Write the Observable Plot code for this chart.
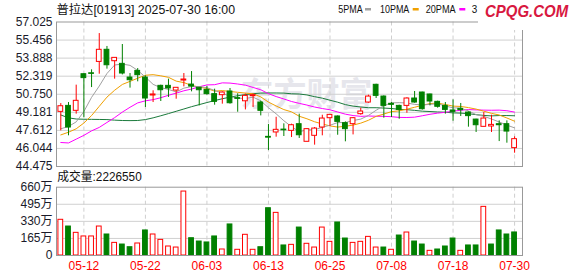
<!DOCTYPE html>
<html><head><meta charset="utf-8">
<script src="https://cdn.jsdelivr.net/npm/d3@7"></script>
<script src="https://cdn.jsdelivr.net/npm/@observablehq/plot@0.6"></script>
<style>
html,body{margin:0;padding:0;background:#fff;}
#chart{position:relative;width:578px;height:276px;overflow:hidden;font-family:"Liberation Sans","Noto Sans CJK SC",Arial,sans-serif;}
#chart svg{position:absolute;left:0;overflow:visible;}
#logo{position:absolute;left:478px;top:0;width:100px;height:29.5px;background:#fff;}
#logo span{position:absolute;left:7px;top:2px;font:italic bold 17px/20px "Liberation Sans",Arial,sans-serif;color:#d8183f;white-space:nowrap;transform:scaleX(0.88);transform-origin:0 0;}
</style></head><body><div id="chart"></div>
<script>
const title = "普拉达[01913] 2025-07-30 16:00";
const volumeLabel = "成交量:2226550";
const dates = ["05-07","05-08","05-09","05-12","05-13","05-14","05-15","05-16","05-19","05-20","05-21","05-22","05-23","05-26","05-27","05-28","05-29","05-30","06-02","06-03","06-04","06-05","06-06","06-09","06-10","06-11","06-12","06-13","06-16","06-17","06-18","06-19","06-20","06-23","06-24","06-25","06-26","06-27","06-30","07-02","07-03","07-04","07-07","07-08","07-09","07-10","07-11","07-14","07-15","07-16","07-17","07-18","07-21","07-22","07-23","07-24","07-25","07-28","07-29","07-30"];
const open = [49.22,49.74,49.31,52.49,52.57,53.56,54.61,53.62,53.39,52.20,
  52.78,52.20,50.64,51.48,51.48,51.07,51.94,51.59,51.31,51.13,
  50.76,50.67,50.99,50.41,50.14,50.58,50.03,47.05,47.43,47.68,
  47.57,48.15,46.62,47.14,47.86,48.67,48.82,48.24,48.15,49.02,
  50.03,51.57,50.55,49.92,49.74,49.74,50.38,50.90,50.73,50.09,
  49.74,49.34,49.48,49.16,48.55,47.92,47.95,48.15,48.15,46.07];
const high = [49.94,50.03,51.54,52.52,52.87,56.02,54.90,53.91,55.07,52.55,
  52.98,52.35,51.05,51.54,52.06,51.31,52.55,52.72,51.33,51.42,
  51.19,50.96,51.25,50.79,50.76,50.76,50.15,48.12,48.75,48.18,
  48.15,49.02,47.77,47.86,48.93,48.96,48.87,48.35,48.73,49.54,
  50.67,51.62,50.61,50.03,49.80,50.44,50.99,50.93,50.76,50.15,
  50.03,50.26,49.95,49.22,48.58,49.16,48.93,48.44,48.44,47.05];
const low = [47.57,47.14,49.02,48.70,51.33,52.49,52.93,52.06,52.43,51.28,
  51.83,49.60,50.03,50.12,50.47,50.32,51.39,50.96,49.74,50.67,
  49.80,49.89,49.89,49.19,49.39,49.60,48.87,45.86,47.02,47.08,
  46.99,46.91,46.62,46.33,47.14,47.95,47.19,46.62,47.22,48.93,
  49.97,50.38,48.67,48.73,48.58,49.10,49.97,49.37,49.74,49.54,
  49.02,48.41,48.82,47.89,47.43,47.92,47.43,46.64,46.50,45.63];
const close = [49.71,47.86,50.18,52.15,52.52,54.61,53.27,53.91,52.55,51.97,
  52.41,50.38,50.73,51.10,51.25,51.31,52.03,51.42,51.10,50.76,
  50.09,50.90,49.97,50.35,50.61,50.67,49.31,46.98,47.66,47.62,
  48.06,47.19,47.72,47.77,48.64,48.96,48.35,47.72,48.67,49.25,
  50.55,50.61,49.74,49.83,49.39,50.38,50.03,49.45,50.12,49.66,
  49.39,49.22,49.37,48.85,48.06,48.64,48.09,48.06,47.51,46.85];
// volume in 万 shares
const volume = [345,280,219,184,184,280,203,122,106,80,
  116,242,203,151,87,77,618,167,135,126,
  184,58,300,55,200,55,80,457,412,97,
  103,270,113,77,270,132,319,164,122,132,
  180,77,77,55,193,222,135,106,45,58,
  87,164,45,97,97,470,106,242,203,222.655];
const ma5 = [47.75,47.95,48.35,49.25,50.48,51.46,52.55,53.29,53.37,53.26,
  52.82,52.24,51.61,51.32,51.17,50.95,51.28,51.42,51.42,51.32,
  51.08,50.85,50.56,50.41,50.38,50.50,50.18,49.58,49.05,48.45,
  47.93,47.50,47.65,47.67,47.88,48.06,48.29,48.29,48.47,48.59,
  48.91,49.36,49.76,50.00,50.02,49.99,49.87,49.82,49.87,49.93,
  49.73,49.57,49.55,49.30,48.98,48.83,48.60,48.34,48.07,47.83];
const ma10 = [47.22,47.45,47.75,48.25,48.90,49.70,50.50,51.10,51.60,51.87,
  52.14,52.40,52.45,52.35,52.22,51.89,51.76,51.52,51.37,51.25,
  51.02,51.07,50.99,50.92,50.85,50.79,50.52,50.07,49.73,49.42,
  49.22,48.84,48.62,48.36,48.17,48.00,47.90,47.97,48.07,48.24,
  48.49,48.83,49.03,49.24,49.31,49.45,49.62,49.79,49.94,49.98,
  49.86,49.72,49.69,49.59,49.46,49.28,49.09,48.95,48.69,48.41];
const ma20 = [46.56,46.52,46.85,47.18,47.57,47.87,48.30,48.72,49.20,49.62,
  50.00,50.18,50.28,50.45,50.66,50.85,51.05,51.20,51.40,51.56,
  51.58,51.74,51.72,51.64,51.54,51.34,51.14,50.80,50.55,50.34,
  50.12,49.96,49.81,49.64,49.51,49.40,49.21,49.02,48.90,48.83,
  48.86,48.84,48.83,48.80,48.74,48.73,48.76,48.88,49.01,49.11,
  49.18,49.28,49.36,49.42,49.39,49.37,49.36,49.37,49.32,49.20];
const ma30 = [48.95,48.70,48.60,48.58,48.57,48.56,48.55,48.50,48.47,48.46,
  48.47,48.55,48.70,48.88,49.07,49.27,49.47,49.67,49.85,50.03,
  50.20,50.36,50.50,50.62,50.72,50.80,50.85,50.86,50.86,50.85,
  50.79,50.77,50.69,50.54,50.41,50.23,50.06,49.85,49.72,49.64,
  49.58,49.58,49.55,49.51,49.44,49.41,49.35,49.28,49.25,49.21,
  49.19,49.13,49.11,49.06,48.98,48.91,48.87,48.90,48.90,48.88];
const priceTicks = [57.025,55.456,53.888,52.319,50.750,49.181,47.612,46.044,44.475];
const priceTickLabels = ["57.025","55.456","53.888","52.319","50.750","49.181","47.612","46.044","44.475"];
const volTicks = [660,495,330,165,0];
const volTickLabels = ["660万","495万","330万","165万","0"];
const dateTickIdx = [3,11,19,27,35,43,51,59];
const legendLabels = ["5PMA","10PMA","20PMA","3"];
const legendColors = ["#a0a0a0","#f0a000","#ff00ff","#1b7a3c"];
const watermark = "东方财富";
const logoText = "CPQG.COM";

const RED = "#ff0000", GREEN = "#008000";
const data = dates.map((d, i) => ({
  i, date: d, open: open[i], high: high[i], low: low[i], close: close[i],
  vol: volume[i], ma5: ma5[i], ma10: ma10[i], ma20: ma20[i], ma30: ma30[i],
  up: close[i] >= open[i],
  volUp: i === 0 ? true : close[i] >= close[i - 1]
}));

const FONT = '"Liberation Sans","Noto Sans CJK SC",Arial,sans-serif';
const xDomain = [-0.56, 60.03];
const W = 0.31;

const price = Plot.plot({
  width: 578, height: 172,
  marginLeft: 56, marginRight: 56, marginTop: 21.5, marginBottom: 6,
  style: {background: "transparent", fontFamily: FONT, fontSize: "12px", overflow: "visible"},
  x: {domain: xDomain, axis: null, label: null},
  y: {domain: [44.475, 57.025], axis: null, label: null},
  marks: [
    Plot.text([watermark], {frameAnchor: "middle", dx: 17, dy: 1, fontSize: 33, fontWeight: "bold", fill: "#e6e6ec", fontFamily: FONT}),
    Plot.gridY(priceTicks.slice(1, -1), {stroke: "#d0d0d0", strokeOpacity: 1}),
    Plot.ruleX(dateTickIdx, {stroke: "#cfcfcf", strokeDasharray: "4,3"}),
    Plot.axisY(priceTicks, {tickSize: 0, tickPadding: 4, fontSize: 12, fill: "#1a1a2a",
      tickFormat: d => priceTickLabels[priceTicks.indexOf(d)]}),
    Plot.line(data, {x: "i", y: "ma30", stroke: legendColors[3], strokeWidth: 1}),
    Plot.line(data, {x: "i", y: "ma20", stroke: legendColors[2], strokeWidth: 1}),
    Plot.line(data, {x: "i", y: "ma10", stroke: legendColors[1], strokeWidth: 1}),
    Plot.line(data, {x: "i", y: "ma5", stroke: legendColors[0], strokeWidth: 1}),
    Plot.ruleX(data, {x: "i", y1: "low", y2: "high", stroke: d => d.up ? RED : GREEN, strokeWidth: 1}),
    Plot.rect(data, {x1: d => d.i - W, x2: d => d.i + W, y1: "open", y2: "close",
      fill: d => d.up ? "#ffffff" : GREEN, stroke: d => d.up ? RED : GREEN, strokeWidth: 1}),
    Plot.frame({stroke: "#999999"})
  ]
});
price.style.top = "0px";
document.getElementById("chart").appendChild(price);

const vol = Plot.plot({
  width: 578, height: 106,
  marginLeft: 56, marginRight: 56, marginTop: 16.7, marginBottom: 21,
  style: {background: "transparent", fontFamily: FONT, fontSize: "12px", overflow: "visible"},
  x: {domain: xDomain, axis: null, label: null},
  y: {domain: [0, 660], axis: null, label: null},
  marks: [
    Plot.gridY([495, 330, 165], {stroke: "#d0d0d0", strokeOpacity: 1}),
    Plot.ruleX(dateTickIdx, {stroke: "#cfcfcf", strokeDasharray: "4,3"}),
    Plot.axisY(volTicks, {tickSize: 0, tickPadding: 4, fontSize: 12, fill: "#1a1a2a",
      tickFormat: d => volTickLabels[volTicks.indexOf(d)]}),
    Plot.axisX(dateTickIdx, {anchor: "bottom", tickSize: 0, tickPadding: 6, fontSize: 12, fill: RED,
      tickFormat: i => dates[i]}),
    Plot.rect(data, {x1: d => d.i - W, x2: d => d.i + W, y1: d => 0, y2: "vol",
      fill: d => d.volUp ? "#ffffff" : GREEN, stroke: d => d.volUp ? RED : GREEN, strokeWidth: 1}),
    Plot.frame({stroke: "#999999"})
  ]
});
vol.style.top = "170px";
document.getElementById("chart").appendChild(vol);

// overlay texts
const ov = d3.select("#chart").append("svg")
  .attr("width", 578).attr("height", 276)
  .style("top", "0px").style("pointer-events", "none")
  .style("font-family", FONT);

ov.append("text").attr("x", 56.5).attr("y", 13.5).attr("font-size", 12)
  .attr("textLength", 178.5).attr("lengthAdjust", "spacingAndGlyphs")
  .attr("fill", "#111").text(title);

const legendX = [338.3, 380, 425.7, 471.7];
const legendW = [24.4, 29.3, 30, 5.5];
const swatchX = [365, 412.7, 459.3];
legendLabels.forEach((lab, k) => {
  ov.append("text").attr("x", legendX[k]).attr("y", 13.3).attr("font-size", 11)
    .attr("textLength", legendW[k]).attr("lengthAdjust", "spacingAndGlyphs")
    .attr("fill", "#111").text(lab);
  if (k < 3) ov.append("rect").attr("x", swatchX[k]).attr("y", 8).attr("width", 6).attr("height", 2.5)
    .attr("fill", legendColors[k]);
});

ov.append("text").attr("x", 57.3).attr("y", 181.3).attr("font-size", 12)
  .attr("textLength", 84.4).attr("lengthAdjust", "spacingAndGlyphs")
  .attr("fill", "#111").text(volumeLabel);

const logo = d3.select("#chart").append("div").attr("id", "logo");
logo.append("span").text(logoText);
</script>
</body></html>
